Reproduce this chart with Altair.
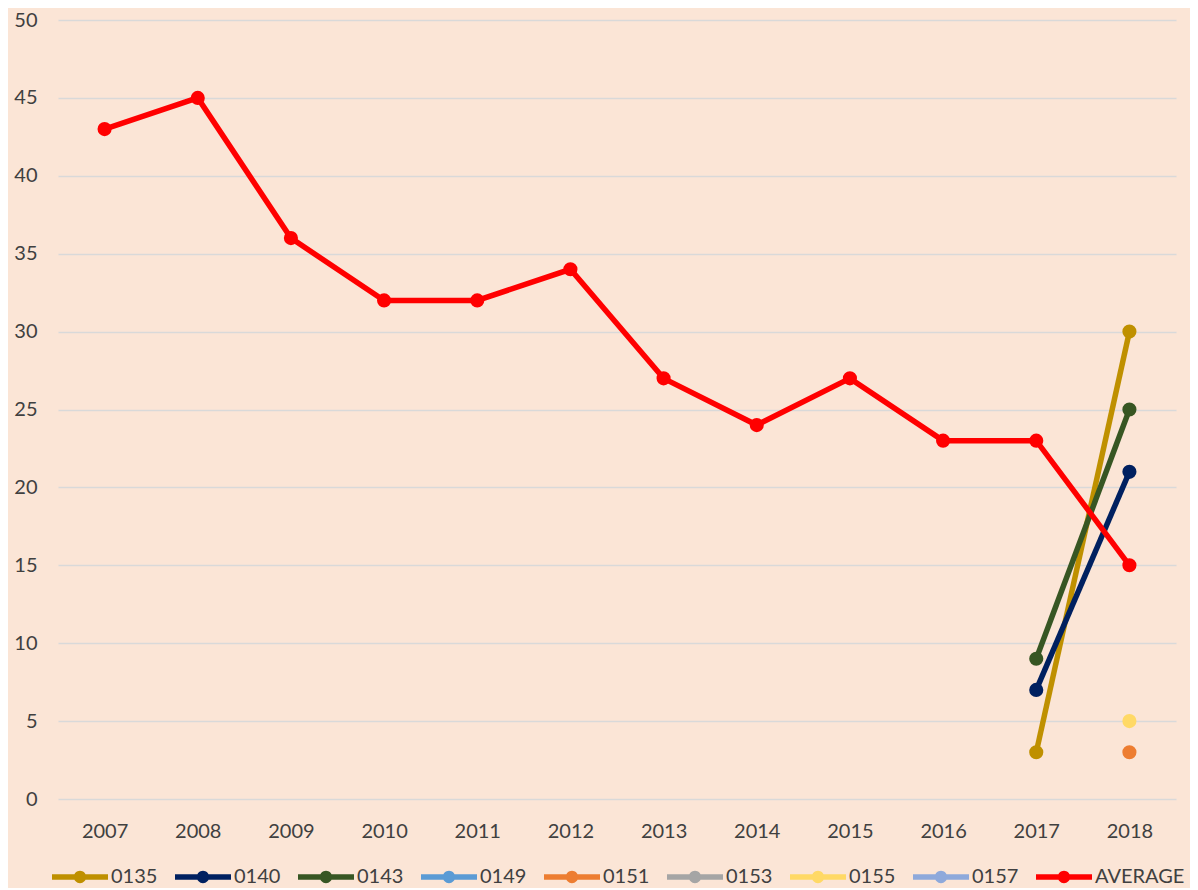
import altair as alt
import pandas as pd

years = [str(y) for y in range(2007, 2019)]
series_names = ["0135", "0140", "0143", "0149", "0151", "0153", "0155", "0157", "AVERAGE"]
series_colors = ["#BF9000", "#002060", "#375623", "#5B9BD5", "#ED7D31",
                 "#A5A5A5", "#FFD966", "#8EA9DB", "#FF0000"]

average_vals = [43, 45, 36, 32, 32, 34, 27, 24, 27, 23, 23, 15]
s0135 = {"2017": 3, "2018": 30}
s0140 = {"2017": 7, "2018": 21}
s0143 = {"2017": 9, "2018": 25}
s0151 = {"2018": 3}
s0155 = {"2018": 5}

rows = []
for name, d in [("0135", s0135), ("0140", s0140), ("0143", s0143),
                ("0151", s0151), ("0155", s0155)]:
    for y, v in d.items():
        rows.append({"year": y, "series": name, "value": v})
for y, v in zip(years, average_vals):
    rows.append({"year": y, "series": "AVERAGE", "value": v})
df = pd.DataFrame(rows)

FONT = "Lato"
TXT = "#404040"
BG = "#FBE5D6"

legend_path = ("M-1,-0.095L1,-0.095L1,0.095L-1,0.095Z "
               "M0.22,0A0.22,0.22 0 1,1 -0.22,0A0.22,0.22 0 1,1 0.22,0Z")

color = alt.Color(
    "series:N",
    scale=alt.Scale(domain=series_names, range=series_colors),
    legend=alt.Legend(
        title=None, orient="none", direction="horizontal",
        legendX=-6, legendY=829, columns=9,
        symbolType=legend_path, symbolSize=3136, symbolStrokeWidth=0,
        symbolOpacity=1,
        labelFont=FONT, labelFontSize=20, labelColor=TXT,
        labelOffset=3, columnPadding=17, padding=0,
    ),
)

x = alt.X("year:O", scale=alt.Scale(domain=years, type="point", padding=0.5),
          axis=alt.Axis(title=None, labelAngle=0, ticks=False, domain=False,
                        labelPadding=22, labelFont=FONT, labelFontSize=20,
                        labelColor=TXT, grid=False))
y = alt.Y("value:Q", scale=alt.Scale(domain=[0, 50], nice=False),
          axis=alt.Axis(title=None, values=list(range(0, 51, 5)), ticks=False,
                        domain=False, labelPadding=21, labelFont=FONT,
                        labelFontSize=20, labelColor=TXT, gridColor="#D9D9D9",
                        gridWidth=1.5))

lines = alt.Chart(df).mark_line(strokeWidth=5.5).encode(
    x=x, y=y, color=color, detail="series:N", order="year:O"
)
points = alt.Chart(df).mark_point(filled=True, size=200, opacity=1).encode(
    x=x, y=y, color=color
)

chart = alt.layer(lines, points).properties(
    width=1118, height=779,
    background=BG,
    padding={"left": 50, "top": 12, "right": 14, "bottom": 89},
    autosize=alt.AutoSizeParams(type="none"),
).configure_view(stroke=None)

chart.save("out.html", embed_options={"renderer": "svg", "actions": False})
